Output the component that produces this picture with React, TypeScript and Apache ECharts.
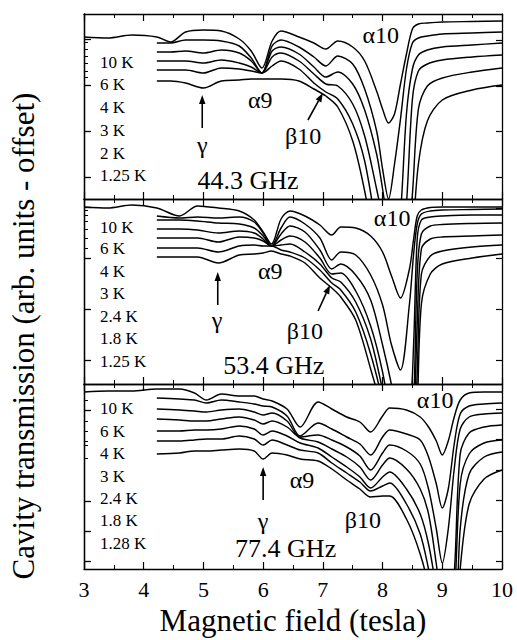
import React, { useEffect, useRef } from "react";
import * as echarts from "echarts";

const SERIF = "'Liberation Serif', 'Times New Roman', serif";

// ---------- Panel 1: 44.3 GHz ----------
const field44 = [3.0, 3.4, 3.8, 4.22, 4.45, 4.7, 5.0, 5.3, 5.6, 5.8, 5.98, 6.15, 6.3, 6.6, 6.85, 7.05, 7.25, 7.5, 7.7, 7.9, 8.0, 8.1, 8.2, 8.3, 8.4, 8.5, 8.6, 8.75, 9.0, 9.5, 10.0];
const c44_10K = [16.2, 16.1, 16.4, 16.2, 15.7, 16.7, 16.9, 16.8, 16.0, 14.8, 13.1, 15.8, 16.8, 16.2, 15.6, 15.0, 15.8, 15.2, 13.8, 10.8, 9.0, 7.6, 8.5, 11.5, 14.5, 17.0, 17.5, 17.6, 17.7, 17.75, 17.8];
const c44_6K = [null, null, null, 15.6, 15.6, 15.9, 15.9, 15.8, 15.3, 14.1, 12.6, 15.3, 15.9, 15.2, 14.2, 13.3, 14.3, 13.5, 11.0, 6.8, 3.0, 0.0, 3.5, 8.0, 13.0, 15.6, 16.1, 16.3, 16.5, 16.6, 16.7];
const c44_4K = [null, null, null, 14.7, 14.7, 14.8, 14.6, 14.9, 14.6, 13.8, 12.6, 14.8, 15.2, 14.5, 13.2, 12.2, 12.7, 11.5, 8.9, 4.5, 1.0, -3, -6, -1.5, 8.5, 13.0, 14.4, 14.9, 15.2, 15.4, 15.6];
const c44_3K = [null, null, null, 13.8, 13.8, 13.8, 13.6, 13.9, 13.6, 13.2, 12.6, 14.2, 14.6, 13.8, 12.5, 11.5, 11.3, 9.5, 6.3, 1.0, -2, -6, -8, -6, -0.5, 10.0, 12.8, 13.5, 13.9, 14.2, 14.4];
const c44_2K = [null, null, null, 12.9, 12.9, 12.9, 12.6, 13.1, 13.0, 12.8, 12.6, 13.3, 13.8, 13.0, 11.6, 10.7, 10.0, 7.5, 3.8, -3, -6, -9, -9, -9, -6, 0.5, 9.0, 11.3, 12.1, 12.7, 13.1];
const c44_125K = [null, null, null, 11.8, 11.8, 11.6, 11.1, 11.8, 11.9, 12.0, 12.0, 12.0, 12.0, 11.8, 11.0, 10.3, 9.2, 5.8, 0.8, -6, -10, -10, -10, -10, -10, -4, 3.5, 7.8, 9.9, 10.9, 11.4];
const temps44 = ["10 K", "6 K", "4 K", "3 K", "2 K", "1.25 K"];

// ---------- Panel 2: 53.4 GHz ----------
const field53 = [3.0, 3.4, 3.8, 4.22, 4.6, 4.9, 5.25, 5.6, 5.85, 6.0, 6.14, 6.3, 6.45, 6.7, 6.95, 7.15, 7.3, 7.55, 7.8, 8.0, 8.15, 8.3, 8.45, 8.52, 8.58, 8.65, 8.8, 9.0, 9.5, 10.0];
const c53_10K = [17.7, 17.6, 17.9, 17.6, 16.8, 17.8, 17.6, 17.3, 16.4, 15.2, 14.0, 16.5, 17.3, 16.8, 15.9, 14.9, 15.7, 15.6, 14.8, 13.2, 10.8, 8.6, 11.5, 14.5, 16.8, 17.4, 17.65, 17.7, 17.7, 17.7];
const c53_6K = [null, null, null, 16.8, 16.6, 16.7, 16.6, 16.7, 16.2, 15.1, 13.8, 15.6, 16.7, 16.0, 14.6, 12.4, 13.2, 12.9, 10.9, 7.9, 3.9, 1.4, 8.0, 13.0, 16.0, 17.0, 17.3, 17.4, 17.45, 17.5];
const c53_4K = [null, null, null, 16.4, 16.4, 16.3, 16.1, 16.0, 15.6, 14.8, 13.8, 15.0, 15.8, 15.2, 13.4, 11.5, 12.0, 10.9, 8.4, 3.9, -0.1, -5, -3, 4.0, 14.5, 16.4, 16.7, 16.8, 16.9, 16.9];
const c53_3K = [null, null, null, 15.5, 15.5, 15.4, 15.1, 15.3, 15.1, 14.5, 13.8, 14.4, 14.8, 14.2, 12.6, 11.0, 11.1, 9.3, 5.8, 1.2, -4, -8, -6, -2, 11.0, 15.0, 15.8, 15.95, 16.05, 16.1];
const c53_24K = [null, null, null, 14.6, 14.6, 14.6, 14.2, 14.7, 14.6, 14.3, 13.8, 13.9, 14.0, 13.2, 12.0, 10.6, 10.2, 8.2, 4.5, -0.6, -5, -9, -9, -5, 6.0, 13.5, 14.5, 14.7, 14.8, 14.9];
const c53_18K = [null, null, null, 13.6, 13.6, 13.6, 13.2, 13.8, 13.9, 13.8, 13.8, 13.4, 13.2, 12.6, 11.4, 10.1, 9.4, 7.2, 3.0, -2, -10, -10, -10, -8, 1.0, 11.0, 12.8, 13.3, 13.7, 13.9];
const c53_125K = [null, null, null, 12.7, 12.7, 12.7, 12.1, 12.9, 13.0, 13.1, 13.3, 13.0, 12.8, 12.1, 10.6, 9.6, 8.7, 6.4, 1.5, -3, -10, -10, -10, -10, -3, 8.0, 11.0, 12.0, 12.6, 13.0];
const temps53 = ["10 K", "6 K", "4 K", "3 K", "2.4 K", "1.8 K", "1.25 K"];

// ---------- Panel 3: 77.4 GHz ----------
const field77 = [3.0, 3.4, 3.8, 4.22, 4.6, 4.85, 5.05, 5.3, 5.6, 5.85, 6.0, 6.15, 6.4, 6.62, 6.92, 7.15, 7.4, 7.62, 7.8, 8.0, 8.12, 8.4, 8.63, 8.77, 8.9, 9.0, 9.1, 9.2, 9.3, 9.45, 9.7, 10.0];
const c77_10K = [17.7, 17.8, 17.8, 18.0, 18.0, 17.6, 16.9, 17.5, 17.3, 17.3, 17.0, 16.8, 16.0, 14.2, 16.7, 16.0, 15.2, 14.7, 13.7, 15.3, 16.1, 15.9, 15.2, 14.2, 12.8, 11.4, 12.8, 15.2, 16.9, 17.6, 17.7, 17.7];
const c77_6K = [null, null, null, 17.1, 17.0, 16.9, 16.6, 16.9, 16.7, 16.5, 16.3, 16.2, 15.3, 13.3, 14.6, 14.0, 13.2, 12.5, 11.4, 13.2, 13.9, 13.5, 12.9, 11.2, 8.5, 6.1, 8.0, 12.5, 15.5, 16.3, 16.5, 16.6];
const c77_4K = [null, null, null, 16.0, 15.9, 15.8, 15.7, 15.9, 16.0, 15.7, 15.4, 15.6, 14.8, 13.2, 13.4, 12.9, 12.2, 11.3, 9.9, 11.6, 12.4, 11.8, 10.5, 8.0, 4.0, 0.6, 4.0, 10.0, 14.0, 15.2, 15.5, 15.6];
const c77_3K = [null, null, null, 15.0, 14.9, 14.8, 14.8, 15.0, 15.2, 14.9, 14.5, 14.8, 14.2, 13.1, 12.7, 12.0, 11.2, 10.2, 8.9, 10.4, 11.1, 10.0, 8.0, 5.5, 0.5, -4, -5, -0.5, 11.5, 13.6, 14.2, 14.4];
const c77_24K = [null, null, null, 13.8, 13.8, 13.9, 13.9, 14.0, 14.3, 14.0, 13.4, 13.8, 13.3, 12.6, 12.1, 11.2, 10.2, 9.2, 8.1, 9.2, 9.7, 8.0, 5.5, 2.5, -2, -6, -6, -3, 8.5, 11.5, 12.6, 12.9];
const c77_18K = [null, null, null, 12.8, 12.8, 12.9, 13.0, 13.0, 13.3, 13.0, 12.4, 12.9, 12.4, 11.9, 11.6, 10.6, 9.6, 8.7, 7.8, 8.3, 8.6, 6.5, 3.5, 0.0, -4, -8, -8, -8, 4.0, 9.5, 11.2, 11.7];
const c77_128K = [null, null, null, 11.5, 11.6, 11.8, 11.8, 11.9, 12.0, 11.8, 11.0, 11.6, 11.4, 11.0, 10.8, 10.0, 8.9, 8.0, 7.2, 7.3, 7.3, 5.0, 1.5, -2, -10, -10, -10, -10, 0.0, 6.5, 9.0, 9.9];
const temps77 = ["10 K", "6 K", "4 K", "3 K", "2.4 K", "1.8 K", "1.28 K"];

const xTicks = [3, 4, 5, 6, 7, 8, 9, 10];

// ---------- layout of annotations (data coordinates of each panel) ----------
const PANELS = [
  {
    field: field44,
    curves: [c44_10K, c44_6K, c44_4K, c44_3K, c44_2K, c44_125K],
    temps: temps44,
    tempY: [13.7, 11.5, 9.2, 6.9, 4.6, 2.4],
    freq: "44.3 GHz",
    freqPos: [4.9, 1.9],
    labels: [["α10", 7.97, 16.4], ["α9", 5.95, 9.9], ["β10", 6.67, 6.3], ["γ", 4.98, 5.4]],
    arrows: [[6.75, 7.9, 7.0, 10.6], [4.98, 7.1, 4.98, 10.4]],
    leftMajor: [16.0, 11.4, 6.8, 2.2],
    leftMinor: [15.63, 15.0, 14.23, 13.57, 12.8, 12.17],
    right: [15.9, 11.3, 6.8, 2.2],
  },
  {
    field: field53,
    curves: [c53_10K, c53_6K, c53_4K, c53_3K, c53_24K, c53_18K, c53_125K],
    temps: temps53,
    tempY: [15.7, 13.6, 11.3, 9.1, 6.8, 4.6, 2.3],
    freq: "53.4 GHz",
    freqPos: [5.33, 1.9],
    labels: [["α10", 8.16, 16.6], ["α9", 6.12, 11.3], ["β10", 6.7, 5.3], ["γ", 5.23, 6.4]],
    arrows: [[6.92, 7.3, 7.12, 9.9], [5.24, 7.9, 5.24, 11.2]],
    leftMajor: [17.65, 12.57, 7.45, 2.33],
    leftMinor: [17.4, 16.83, 16.23, 15.47, 14.57, 13.57],
    right: [17.6, 12.57, 7.45, 2.33],
  },
  {
    field: field77,
    curves: [c77_10K, c77_6K, c77_4K, c77_3K, c77_24K, c77_18K, c77_128K],
    temps: temps77,
    tempY: [16.1, 13.8, 11.6, 9.3, 7.1, 4.9, 2.6],
    freq: "77.4 GHz",
    freqPos: [5.53, 2.1],
    labels: [["α10", 8.88, 16.9], ["α9", 6.65, 8.9], ["β10", 7.67, 4.9], ["γ", 6.0, 4.8]],
    arrows: [[6.0, 6.9, 6.0, 10.2]],
    leftMajor: [15.9, 6.73, 3.73, 0.73],
    leftMinor: [16.9, 14.73, 13.73, 12.73, 12.4, 11.07],
    right: [15.98, 12.93, 9.88, 6.83, 3.78, 0.73],
  },
];

const BLACK = "#000";

export default function App() {
  const ref = useRef<HTMLDivElement>(null);
  useEffect(() => {
    const el = ref.current!;
    const chart = echarts.init(el, null, { renderer: "svg" });
    const grids: any[] = [];
    const xAxes: any[] = [];
    const yAxes: any[] = [];
    const series: any[] = [];
    PANELS.forEach((p, i) => {
      grids.push({ left: 84, width: 418, top: 14 + i * 185, height: 185 });
      const xBase: any = {
        type: "value",
        gridIndex: i,
        min: 3,
        max: 10,
        interval: 1,
        axisLine: { show: true, onZero: false, lineStyle: { color: BLACK, width: 1.3 } },
        axisTick: { show: true, inside: true, length: 7, lineStyle: { color: BLACK, width: 1.2 } },
        minorTick: { show: true, splitNumber: 2, length: 4, lineStyle: { color: BLACK, width: 1 } },
        splitLine: { show: false },
        minorSplitLine: { show: false },
      };
      xAxes.push({
        ...xBase,
        position: "bottom",
        axisLabel:
          i === 2
            ? {
                show: true,
                color: BLACK,
                fontFamily: SERIF,
                fontSize: 22,
                margin: 9,
                customValues: xTicks,
              }
            : { show: false },
        name: i === 2 ? "Magnetic field (tesla)" : "",
        nameLocation: "middle",
        nameGap: 36,
        nameTextStyle: { color: BLACK, fontFamily: SERIF, fontSize: 31 },
      });
      xAxes.push({ ...xBase, position: "top", axisLabel: { show: false } });
      const yBase: any = {
        type: "value",
        gridIndex: i,
        min: 0,
        max: 18.5,
        axisLabel: { show: false },
        splitLine: { show: false },
        axisLine: { show: true, onZero: false, lineStyle: { color: BLACK, width: 1.3 } },
      };
      yAxes.push({
        ...yBase,
        position: "left",
        axisTick: { show: true, inside: true, length: 7, customValues: p.leftMajor, lineStyle: { color: BLACK, width: 1.3 } },
      });
      yAxes.push({
        ...yBase,
        position: "left",
        axisTick: { show: true, inside: true, length: 4, customValues: p.leftMinor, lineStyle: { color: BLACK, width: 1 } },
      });
      yAxes.push({
        ...yBase,
        position: "right",
        axisTick: { show: true, inside: true, length: 6, customValues: p.right, lineStyle: { color: BLACK, width: 1.2 } },
      });
      p.curves.forEach((c) => {
        const data: any[] = [];
        p.field.forEach((x, k) => {
          const v = c[k];
          if (v !== null && v !== undefined) data.push([x, v]);
        });
        series.push({
          type: "line",
          xAxisIndex: 2 * i,
          yAxisIndex: 3 * i,
          data,
          showSymbol: false,
          symbol: "none",
          smooth: 0.3,
          clip: true,
          silent: true,
          lineStyle: { color: BLACK, width: 1.45 },
        });
      });
    });

    chart.setOption({
      animation: false,
      backgroundColor: "#fff",
      grid: grids,
      xAxis: xAxes,
      yAxis: yAxes,
      series,
    });

    const graphic: any[] = [];
    const toPx = (i: number, x: number, y: number) =>
      chart.convertToPixel({ xAxisIndex: 2 * i, yAxisIndex: 3 * i } as any, [x, y]) as number[];
    PANELS.forEach((p, i) => {
      p.temps.forEach((t, k) => {
        const [px, py] = toPx(i, 3.27, p.tempY[k]);
        graphic.push({
          type: "text",
          x: px,
          y: py,
          style: { text: t, font: `17px ${SERIF}`, fill: BLACK, align: "left", verticalAlign: "middle" },
        });
      });
      const [fx, fy] = toPx(i, p.freqPos[0], p.freqPos[1]);
      graphic.push({
        type: "text",
        x: fx,
        y: fy,
        style: { text: p.freq, font: `26px ${SERIF}`, fill: BLACK, align: "left", verticalAlign: "middle" },
      });
      p.labels.forEach((l: any) => {
        const [lx, ly] = toPx(i, l[1], l[2]);
        graphic.push({
          type: "text",
          x: lx,
          y: ly,
          style: { text: l[0], font: `24px ${SERIF}`, fill: BLACK, align: "center", verticalAlign: "middle" },
        });
      });
      p.arrows.forEach((a) => {
        const [x1, y1] = toPx(i, a[0], a[1]);
        const [x2, y2] = toPx(i, a[2], a[3]);
        const dx = x2 - x1;
        const dy = y2 - y1;
        const len = Math.sqrt(dx * dx + dy * dy);
        const ux = dx / len;
        const uy = dy / len;
        const head = 9;
        const hw = 3.2;
        const bx = x2 - ux * head;
        const by = y2 - uy * head;
        graphic.push({
          type: "line",
          shape: { x1, y1, x2: bx, y2: by },
          style: { stroke: BLACK, lineWidth: 1.6 },
        });
        graphic.push({
          type: "polygon",
          shape: {
            points: [
              [x2, y2],
              [bx - uy * hw, by + ux * hw],
              [bx + uy * hw, by - ux * hw],
            ],
          },
          style: { fill: BLACK },
        });
      });
    });
    graphic.push({
      type: "text",
      x: 23,
      y: 336,
      rotation: Math.PI / 2,
      style: {
        text: "Cavity transmission (arb. units - offset)",
        font: `31px ${SERIF}`,
        fill: BLACK,
        align: "center",
        verticalAlign: "middle",
      },
    });
    chart.setOption({ graphic });

    return () => chart.dispose();
  }, []);
  return (
    <div
      ref={ref}
      style={{ position: "absolute", left: 0, top: 0, width: 517, height: 640, background: "#fff" }}
    />
  );
}
